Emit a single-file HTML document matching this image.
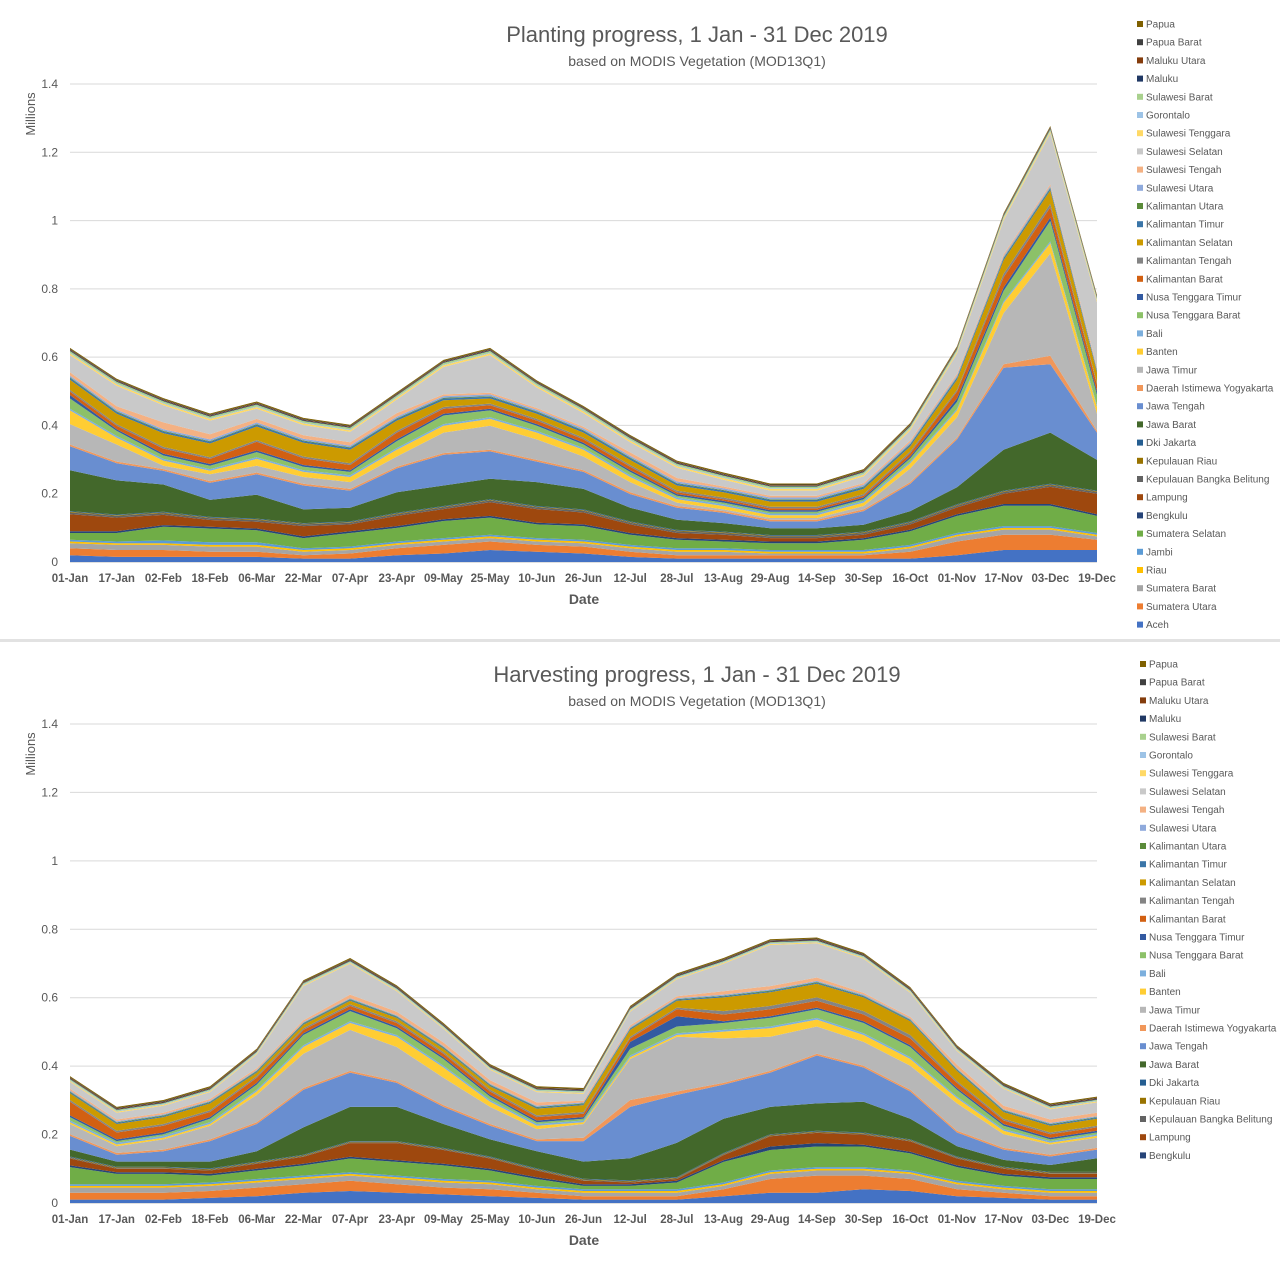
<!DOCTYPE html>
<html><head><meta charset="utf-8"><style>
body{margin:0;background:#fff;width:1280px;height:1280px;overflow:hidden;font-family:"Liberation Sans",sans-serif}
svg{display:block}
</style></head><body>
<svg id="c" width="1280" height="1280" xmlns="http://www.w3.org/2000/svg"></svg>
<script>
const dates=["01-Jan","17-Jan","02-Feb","18-Feb","06-Mar","22-Mar","07-Apr","23-Apr","09-May","25-May","10-Jun","26-Jun","12-Jul","28-Jul","13-Aug","29-Aug","14-Sep","30-Sep","16-Oct","01-Nov","17-Nov","03-Dec","19-Dec"];
const yTicks=[0,0.2,0.4,0.6,0.8,1,1.2,1.4];
const yTickLabels=["0","0.2","0.4","0.6","0.8","1","1.2","1.4"];
const seriesNames=["Aceh","Sumatera Utara","Sumatera Barat","Riau","Jambi","Sumatera Selatan","Bengkulu","Lampung","Kepulauan Bangka Belitung","Kepulauan Riau","Dki Jakarta","Jawa Barat","Jawa Tengah","Daerah Istimewa Yogyakarta","Jawa Timur","Banten","Bali","Nusa Tenggara Barat","Nusa Tenggara Timur","Kalimantan Barat","Kalimantan Tengah","Kalimantan Selatan","Kalimantan Timur","Kalimantan Utara","Sulawesi Utara","Sulawesi Tengah","Sulawesi Selatan","Sulawesi Tenggara","Gorontalo","Sulawesi Barat","Maluku","Maluku Utara","Papua Barat","Papua"];
const seriesColors=["#4472c4","#ed7d31","#a5a5a5","#ffc000","#5b9bd5","#70ad47","#264478","#9e480e","#636363","#997300","#255e91","#43682b","#698ed0","#f1975a","#b7b7b7","#ffcd33","#7cafdd","#8cc168","#335aa1","#d26012","#848484","#cc9a00","#3a75a8","#5a8b39","#8faadc","#f4b183","#c9c9c9","#ffd966","#9dc3e6","#a9d18e","#203864","#843c0c","#404040","#7f6000"];
// Planting values (millions)
const plantAceh=[.02,.015,.015,.015,.015,.01,.01,.02,.025,.035,.03,.025,.015,.01,.01,.01,.01,.01,.01,.02,.035,.035,.035];
const plantSumUtara=[.02,.02,.02,.015,.015,.01,.015,.02,.025,.025,.02,.02,.015,.01,.01,.01,.01,.01,.02,.04,.045,.045,.03];
const plantSumBarat=[.015,.015,.015,.015,.015,.01,.01,.01,.01,.01,.01,.01,.01,.01,.01,.005,.005,.005,.01,.015,.015,.015,.01];
const plantRiau=[.005,.005,.005,.005,.005,.005,.005,.005,.005,.005,.005,.005,.005,.005,.005,.005,.005,.005,.005,.005,.005,.005,.005];
const plantJambi=[.005,.005,.008,.008,.008,.005,.005,.005,.005,.005,.005,.005,.005,.005,.005,.005,.005,.005,.005,.005,.005,.005,.005];
const plantSumSelatan=[.02,.025,.04,.04,.035,.03,.04,.04,.05,.05,.04,.04,.03,.025,.02,.02,.02,.03,.04,.05,.06,.06,.05];
const plantBengkulu=[.005,.005,.005,.005,.005,.005,.005,.005,.005,.005,.005,.005,.005,.005,.005,.005,.005,.005,.005,.005,.005,.005,.005];
const plantLampung=[.05,.04,.03,.02,.02,.03,.02,.03,.03,.04,.04,.035,.025,.015,.015,.01,.01,.01,.015,.02,.03,.05,.06];
const plantBabel=[.005,.005,.005,.005,.005,.005,.005,.005,.005,.005,.005,.005,.005,.005,.005,.005,.005,.005,.005,.005,.005,.005,.005];
const plantKepRiau=[.002,.002,.002,.002,.002,.002,.002,.002,.002,.002,.002,.002,.002,.002,.002,.002,.002,.002,.002,.002,.002,.002,.002];
const plantDki=[.002,.002,.002,.002,.002,.002,.002,.002,.002,.002,.002,.002,.002,.002,.002,.002,.002,.002,.002,.002,.002,.002,.002];
const plantJabar=[.12,.1,.08,.05,.07,.04,.04,.06,.06,.06,.07,.06,.04,.03,.025,.02,.02,.02,.03,.05,.12,.15,.09];
const plantJateng=[.07,.05,.04,.05,.06,.07,.05,.07,.09,.08,.06,.05,.04,.035,.03,.02,.02,.04,.08,.14,.24,.2,.08];
const plantDiy=[.005,.005,.005,.005,.005,.005,.005,.005,.005,.005,.005,.005,.005,.005,.005,.005,.005,.005,.005,.005,.01,.025,.005];
const plantJatim=[.06,.05,.01,.02,.02,.02,.02,.03,.06,.07,.06,.04,.03,.01,.005,.005,.005,.01,.04,.06,.15,.3,.05];
const plantBanten=[.04,.02,.015,.01,.02,.015,.015,.02,.02,.02,.02,.02,.015,.01,.01,.008,.008,.01,.015,.02,.03,.03,.02];
const plantBali=[.005,.005,.005,.005,.005,.005,.005,.005,.005,.005,.005,.005,.005,.005,.005,.005,.005,.005,.005,.005,.005,.005,.005];
const plantNtb=[.03,.015,.01,.01,.015,.01,.01,.02,.025,.02,.015,.01,.01,.005,.005,.005,.005,.005,.01,.02,.03,.06,.03];
const plantNtt=[.01,.005,.005,.005,.005,.005,.005,.005,.005,.005,.005,.005,.005,.005,.005,.005,.005,.005,.005,.01,.01,.01,.01];
const plantKalbar=[.01,.01,.015,.015,.025,.02,.015,.02,.015,.01,.01,.01,.01,.005,.005,.005,.005,.005,.01,.02,.03,.03,.02];
const plantKalteng=[.005,.005,.005,.005,.005,.005,.005,.005,.005,.005,.005,.005,.005,.005,.005,.005,.005,.005,.005,.005,.01,.01,.005];
const plantKalsel=[.03,.03,.04,.04,.04,.04,.04,.03,.02,.015,.015,.015,.015,.015,.015,.015,.015,.015,.015,.03,.04,.04,.03];
const plantKaltim=[.005,.005,.005,.005,.005,.005,.005,.005,.005,.005,.005,.005,.005,.005,.005,.005,.005,.005,.005,.005,.005,.005,.005];
const plantKaltara=[.002,.002,.002,.002,.002,.002,.002,.002,.002,.002,.002,.002,.002,.002,.002,.002,.002,.002,.002,.002,.002,.002,.002];
const plantSulut=[.005,.005,.005,.005,.005,.005,.005,.005,.005,.005,.005,.005,.005,.005,.005,.005,.005,.005,.005,.005,.005,.005,.005];
const plantSulteng=[.01,.01,.02,.015,.01,.01,.01,.01,.005,.005,.005,.005,.01,.01,.005,.005,.005,.005,.005,.005,.005,.005,.005];
const plantSulsel=[.05,.06,.05,.04,.03,.03,.03,.04,.08,.11,.06,.04,.03,.03,.02,.015,.015,.02,.03,.06,.1,.15,.19];
const plantSultra=[.005,.005,.005,.005,.005,.005,.005,.005,.005,.005,.005,.005,.005,.005,.005,.005,.005,.005,.005,.005,.005,.005,.005];
const plantGorontalo=[.002,.002,.002,.002,.002,.002,.002,.002,.002,.002,.002,.002,.002,.002,.002,.002,.002,.002,.002,.002,.002,.002,.002];
const plantSulbar=[.005,.005,.005,.005,.005,.005,.005,.005,.005,.005,.005,.005,.005,.005,.005,.005,.005,.005,.005,.005,.005,.005,.005];
const plantMaluku=[.002,.002,.002,.002,.002,.002,.002,.002,.002,.002,.002,.002,.002,.002,.002,.002,.002,.002,.002,.002,.002,.002,.002];
const plantMalut=[.002,.002,.002,.002,.002,.002,.002,.002,.002,.002,.002,.002,.002,.002,.002,.002,.002,.002,.002,.002,.002,.002,.002];
const plantPapuaBarat=[.002,.002,.002,.002,.002,.002,.002,.002,.002,.002,.002,.002,.002,.002,.002,.002,.002,.002,.002,.002,.002,.002,.002];
const plantPapua=[.003,.003,.003,.003,.003,.003,.003,.003,.003,.003,.003,.003,.003,.003,.003,.003,.003,.003,.003,.003,.003,.003,.003];
// Harvest values
const harvAceh=[.01,.01,.01,.015,.02,.03,.035,.03,.025,.02,.015,.01,.01,.01,.02,.03,.03,.04,.035,.02,.015,.01,.01];
const harvSumUtara=[.02,.02,.02,.02,.025,.025,.03,.025,.02,.02,.015,.01,.01,.01,.02,.04,.05,.04,.035,.02,.015,.01,.01];
const harvSumBarat=[.015,.015,.015,.015,.015,.015,.015,.015,.015,.015,.01,.01,.01,.01,.01,.015,.015,.015,.015,.015,.01,.01,.01];
const harvRiau=[.005,.005,.005,.005,.005,.005,.005,.005,.005,.005,.005,.005,.005,.005,.005,.005,.005,.005,.005,.005,.005,.005,.005];
const harvJambi=[.005,.005,.005,.005,.005,.005,.005,.005,.005,.005,.005,.005,.005,.005,.005,.005,.005,.005,.005,.005,.005,.005,.005];
const harvSumSelatan=[.05,.03,.03,.02,.025,.03,.04,.04,.04,.03,.02,.01,.01,.02,.06,.06,.06,.06,.05,.04,.03,.03,.03];
const harvBengkulu=[.005,.005,.005,.005,.005,.005,.005,.005,.005,.005,.005,.005,.005,.005,.005,.01,.01,.005,.005,.005,.005,.005,.005];
const harvLampung=[.02,.01,.01,.01,.015,.02,.04,.05,.04,.03,.02,.01,.005,.005,.015,.03,.03,.03,.03,.02,.015,.01,.01];
const harvBabel=[.002,.002,.002,.002,.002,.002,.002,.002,.002,.002,.002,.002,.002,.002,.002,.002,.002,.002,.002,.002,.002,.002,.002];
const harvKepRiau=[.002,.002,.002,.002,.002,.002,.002,.002,.002,.002,.002,.002,.002,.002,.002,.002,.002,.002,.002,.002,.002,.002,.002];
const harvDki=[.002,.002,.002,.002,.002,.002,.002,.002,.002,.002,.002,.002,.002,.002,.002,.002,.002,.002,.002,.002,.002,.002,.002];
const harvJabar=[.02,.015,.015,.02,.03,.08,.1,.1,.07,.05,.05,.05,.065,.1,.1,.08,.08,.09,.06,.03,.02,.02,.04];
const harvJateng=[.04,.02,.03,.06,.08,.11,.1,.07,.05,.04,.03,.06,.15,.14,.1,.1,.14,.1,.08,.04,.03,.025,.025];
const harvDiy=[.005,.005,.005,.005,.005,.005,.005,.005,.005,.005,.005,.01,.02,.01,.005,.005,.005,.005,.005,.005,.005,.005,.005];
const harvJatim=[.03,.02,.03,.04,.08,.1,.12,.1,.08,.05,.03,.04,.12,.16,.13,.1,.08,.07,.07,.08,.04,.03,.03];
const harvBanten=[.005,.005,.005,.005,.01,.02,.02,.03,.03,.015,.01,.005,.005,.005,.02,.025,.02,.02,.02,.015,.01,.005,.005];
const harvBali=[.005,.005,.005,.005,.005,.005,.005,.005,.005,.005,.005,.005,.005,.005,.005,.005,.005,.005,.005,.005,.005,.005,.005];
const harvNtb=[.01,.005,.005,.01,.015,.03,.03,.02,.02,.01,.005,.005,.02,.02,.02,.025,.025,.03,.03,.02,.01,.005,.005];
const harvNtt=[.005,.005,.005,.005,.005,.005,.005,.005,.005,.005,.005,.005,.02,.03,.005,.005,.005,.005,.005,.005,.005,.005,.005];
const harvKalbar=[.04,.02,.02,.015,.015,.01,.01,.01,.01,.01,.01,.01,.01,.02,.02,.02,.02,.02,.02,.015,.01,.01,.01];
const harvKalteng=[.005,.005,.005,.005,.005,.005,.005,.005,.005,.005,.005,.005,.005,.005,.01,.01,.01,.01,.01,.005,.005,.005,.005];
const harvKalsel=[.02,.02,.02,.02,.01,.01,.01,.01,.01,.01,.02,.02,.02,.02,.04,.04,.04,.04,.04,.03,.02,.02,.02];
const harvKaltim=[.003,.003,.003,.003,.003,.003,.003,.003,.003,.003,.003,.003,.003,.003,.003,.003,.003,.003,.003,.003,.003,.003,.003];
const harvKaltara=[.002,.002,.002,.002,.002,.002,.002,.002,.002,.002,.002,.002,.002,.002,.002,.002,.002,.002,.002,.002,.002,.002,.002];
const harvSulut=[.003,.003,.003,.003,.003,.003,.003,.003,.003,.003,.003,.003,.003,.003,.003,.003,.003,.003,.003,.003,.003,.003,.003];
const harvSulteng=[.005,.005,.005,.005,.005,.005,.01,.01,.01,.01,.01,.005,.005,.005,.01,.01,.01,.005,.005,.01,.01,.01,.01];
const harvSulsel=[.02,.02,.02,.02,.04,.1,.09,.06,.04,.03,.03,.02,.04,.05,.08,.12,.1,.1,.07,.04,.05,.03,.03];
const harvSultra=[.003,.003,.003,.003,.003,.003,.003,.003,.003,.003,.003,.003,.003,.003,.003,.003,.003,.003,.003,.003,.003,.003,.003];
const harvGorontalo=[.002,.002,.002,.002,.002,.002,.002,.002,.002,.002,.002,.002,.002,.002,.002,.002,.002,.002,.002,.002,.002,.002,.002];
const harvSulbar=[.003,.003,.003,.003,.003,.003,.003,.003,.003,.003,.003,.003,.003,.003,.003,.003,.003,.003,.003,.003,.003,.003,.003];
const harvMaluku=[.002,.002,.002,.002,.002,.002,.002,.002,.002,.002,.002,.002,.002,.002,.002,.002,.002,.002,.002,.002,.002,.002,.002];
const harvMalut=[.002,.002,.002,.002,.002,.002,.002,.002,.002,.002,.002,.002,.002,.002,.002,.002,.002,.002,.002,.002,.002,.002,.002];
const harvPapuaBarat=[.002,.002,.002,.002,.002,.002,.002,.002,.002,.002,.002,.002,.002,.002,.002,.002,.002,.002,.002,.002,.002,.002,.002];
const harvPapua=[.003,.003,.003,.003,.003,.003,.003,.003,.003,.003,.003,.003,.003,.003,.003,.003,.003,.003,.003,.003,.003,.003,.003];

const plantSeries=[plantAceh,plantSumUtara,plantSumBarat,plantRiau,plantJambi,plantSumSelatan,plantBengkulu,plantLampung,plantBabel,plantKepRiau,plantDki,plantJabar,plantJateng,plantDiy,plantJatim,plantBanten,plantBali,plantNtb,plantNtt,plantKalbar,plantKalteng,plantKalsel,plantKaltim,plantKaltara,plantSulut,plantSulteng,plantSulsel,plantSultra,plantGorontalo,plantSulbar,plantMaluku,plantMalut,plantPapuaBarat,plantPapua];
const harvSeries=[harvAceh,harvSumUtara,harvSumBarat,harvRiau,harvJambi,harvSumSelatan,harvBengkulu,harvLampung,harvBabel,harvKepRiau,harvDki,harvJabar,harvJateng,harvDiy,harvJatim,harvBanten,harvBali,harvNtb,harvNtt,harvKalbar,harvKalteng,harvKalsel,harvKaltim,harvKaltara,harvSulut,harvSulteng,harvSulsel,harvSultra,harvGorontalo,harvSulbar,harvMaluku,harvMalut,harvPapuaBarat,harvPapua];

const NS="http://www.w3.org/2000/svg";
const svg=document.getElementById('c');
function mk(tag,attrs,parent,text){const e=document.createElementNS(NS,tag);for(const k in attrs)e.setAttribute(k,attrs[k]);if(text!==undefined)e.textContent=text;(parent||svg).appendChild(e);return e;}

const dv=mk('rect',{x:0,y:639,width:1280,height:3,fill:'#e2e2e2'});



function drawChart(cfg){
  const g=mk('g',{});
  
  
  const x0=70,x1=1097,y0=cfg.y0,yTop=cfg.yTop;
  const xS=i=>x0+(x1-x0)*i/(dates.length-1);
  const yS=v=>y0-(y0-yTop)*v/1.4;
  yTicks.forEach((t,i)=>{
    const l=mk('line',{x1:x0,x2:x1,y1:yS(t),y2:yS(t),stroke:i===0?'#bfbfbf':'#d9d9d9','stroke-width':1},g);
    
    
    const tl=mk('text',{x:58,y:yS(t)+4,'text-anchor':'end','font-size':12,fill:'#595959'},g,yTickLabels[i]);
    
    
  });
  let base=dates.map(()=>0);
  cfg.series.forEach((s,si)=>{
    const top=base.map((b,i)=>b+s[i]);
    let d='M'+top.map((v,i)=>xS(i).toFixed(1)+','+yS(v).toFixed(1)).join('L');
    for(let i=dates.length-1;i>=0;i--)d+='L'+xS(i).toFixed(1)+','+yS(base[i]).toFixed(1);
    d+='Z';
    const p=mk('path',{d:d,fill:seriesColors[si]},g);
    
    
    base=top;
  });
  dates.forEach((dt,i)=>{
    const t=mk('text',{x:xS(i),y:y0+20,'text-anchor':'middle','font-size':11.5,'font-weight':'bold',fill:'#595959'},g,dt);
    
    
  });
  const xt=mk('text',{x:584,y:y0+42,'text-anchor':'middle','font-size':14,'font-weight':'bold',fill:'#595959'},g,'Date');
  
  
  const yt=mk('text',{x:35,y:yTop+30,'text-anchor':'middle','font-size':13,fill:'#595959',transform:'rotate(-90 35 '+(yTop+30)+')'},g,'Millions');
  
  
  const ti=mk('text',{x:697,y:cfg.titleY,'text-anchor':'middle','font-size':22,fill:'#595959'},g,cfg.title);
  
  
  const st=mk('text',{x:697,y:cfg.titleY+24,'text-anchor':'middle','font-size':14,fill:'#595959'},g,'based on MODIS Vegetation (MOD13Q1)');
  
  
  for(let k=0;k<cfg.legendCount;k++){
    const si=seriesNames.length-1-k;
    const ly=cfg.legendY+k*18.2;
    const lg=mk('g',{},g);
    
    
    mk('rect',{x:cfg.legendX,y:ly-3,width:6,height:6,fill:seriesColors[si]},lg);
    mk('text',{x:cfg.legendX+9,y:ly+3.5,'font-size':10,fill:'#595959'},lg,seriesNames[si]);
  }
}
drawChart({name:'planting-chart',series:plantSeries,y0:562,yTop:84,titleY:42,title:'Planting progress, 1 Jan - 31 Dec 2019',legendX:1137,legendY:24,legendCount:34});
drawChart({name:'harvesting-chart',series:harvSeries,y0:1203,yTop:724,titleY:682,title:'Harvesting progress, 1 Jan - 31 Dec 2019',legendX:1140,legendY:664,legendCount:28});
</script>
</body></html>
